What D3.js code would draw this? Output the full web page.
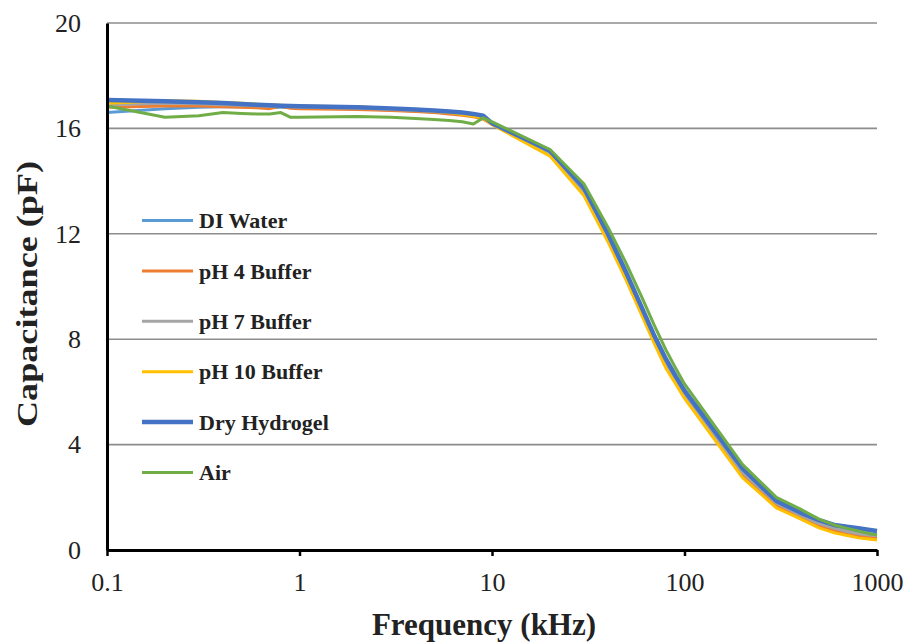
<!DOCTYPE html>
<html>
<head>
<meta charset="utf-8">
<script src="https://cdn.jsdelivr.net/npm/d3@7"></script>
<style>
  body { margin: 0; background: #fff; }
  svg { display: block; }
</style>
</head>
<body>
<div id="chart"></div>
<script>
const width = 911;
const height = 644;
const margin = {top: 23, right: 34, bottom: 94, left: 107};
const serif = "'Liberation Serif', 'Times New Roman', Tinos, 'DejaVu Serif', serif";

// frequency points (kHz)
const freqs = [0.1, 0.2, 0.3, 0.4, 0.5, 0.6, 0.7, 0.8, 0.9,
               1, 2, 3, 4, 5, 6, 7, 8, 9,
               10, 20, 30, 40, 50, 60, 70, 80, 90,
               100, 200, 300, 400, 500, 600, 700, 800, 900,
               1000];

const diWater = [16.6, 16.75, 16.8, 16.82, 16.82, 16.8, 16.8, 16.8, 16.79,
                 16.78, 16.75, 16.7, 16.66, 16.62, 16.58, 16.54, 16.48, 16.42,
                 16.2, 15.1, 13.65, 11.9, 10.4, 9.1, 8.0, 7.15, 6.5,
                 5.95, 3.0, 1.8, 1.35, 1.02, 0.85, 0.74, 0.66, 0.62,
                 0.6];
const ph4 = [16.8, 16.85, 16.85, 16.82, 16.8, 16.78, 16.75, 16.84, 16.76,
             16.75, 16.72, 16.68, 16.64, 16.6, 16.55, 16.5, 16.44, 16.36,
             16.15, 15.0, 13.55, 11.8, 10.3, 9.0, 7.9, 7.05, 6.4,
             5.85, 2.85, 1.7, 1.25, 0.92, 0.75, 0.62, 0.54, 0.48,
             0.45];
const ph7 = [16.9, 16.95, 16.94, 16.9, 16.88, 16.86, 16.84, 16.83, 16.82,
             16.8, 16.76, 16.72, 16.68, 16.64, 16.6, 16.55, 16.5, 16.42,
             16.18, 15.05, 13.6, 11.85, 10.35, 9.05, 7.95, 7.1, 6.45,
             5.9, 2.95, 1.78, 1.32, 1.0, 0.82, 0.7, 0.62, 0.57,
             0.55];
const ph10 = [16.95, 17.05, 17.03, 16.98, 16.95, 16.92, 16.9, 16.88, 16.86,
              16.85, 16.82, 16.76, 16.7, 16.65, 16.6, 16.54, 16.46, 16.4,
              16.15, 14.95, 13.45, 11.7, 10.2, 8.9, 7.8, 6.9, 6.3,
              5.75, 2.75, 1.6, 1.18, 0.84, 0.65, 0.55, 0.46, 0.42,
              0.38];
const dryHydrogel = [17.08, 17.03, 16.99, 16.96, 16.93, 16.9, 16.88, 16.86, 16.85,
                     16.84, 16.8, 16.76, 16.72, 16.68, 16.64, 16.6, 16.55, 16.48,
                     16.2, 15.15, 13.75, 12.0, 10.5, 9.2, 8.1, 7.25, 6.6,
                     6.05, 3.1, 1.86, 1.42, 1.13, 0.95, 0.88, 0.83, 0.77,
                     0.72];
const air = [16.85, 16.42, 16.48, 16.6, 16.57, 16.55, 16.55, 16.6, 16.42,
             16.42, 16.45, 16.42, 16.38, 16.34, 16.3, 16.25, 16.17, 16.4,
             16.25, 15.2, 13.9, 12.25, 10.85, 9.6, 8.5, 7.6, 6.9,
             6.3, 3.25, 2.0, 1.55, 1.17, 0.95, 0.82, 0.72, 0.63,
             0.57];

const seriesNames = ["DI Water", "pH 4 Buffer", "pH 7 Buffer", "pH 10 Buffer", "Dry Hydrogel", "Air"];
const seriesValues = [diWater, ph4, ph7, ph10, dryHydrogel, air];
const colors = ["#5B9BD5", "#ED7D31", "#A5A5A5", "#FFC000", "#4472C4", "#70AD47"];
const strokeW = [3, 3, 3, 3, 4.5, 3];

const xTicks = [0.1, 1, 10, 100, 1000];
const yTicks = [0, 4, 8, 12, 16, 20];

const svg = d3.select("#chart").append("svg")
    .attr("width", width)
    .attr("height", height);

const innerW = width - margin.left - margin.right;
const innerH = height - margin.top - margin.bottom;

const g = svg.append("g")
    .attr("transform", "translate(" + margin.left + "," + margin.top + ")");

const xScale = d3.scaleLog().domain([0.1, 1000]).range([0, innerW]);
const yScale = d3.scaleLinear().domain([0, 20]).range([innerH, 0]);

// gridlines
g.selectAll(".grid")
    .data(yTicks.filter(d => d > 0))
    .enter()
    .append("line")
    .attr("x1", 0)
    .attr("x2", innerW)
    .attr("y1", d => yScale(d))
    .attr("y2", d => yScale(d))
    .attr("stroke", "#8c8c8c")
    .attr("stroke-width", 1.6);

const slices = seriesNames.map(function(name, i) {
    return {
        id: name,
        color: colors[i],
        sw: strokeW[i],
        values: freqs.map((f, j) => ({freq: f, cap: seriesValues[i][j]}))
    };
});

const line = d3.line()
    .x(d => xScale(d.freq))
    .y(d => yScale(d.cap));

g.selectAll(".series")
    .data(slices)
    .enter()
    .append("path")
    .attr("fill", "none")
    .attr("stroke", d => d.color)
    .attr("stroke-width", d => d.sw)
    .attr("stroke-linejoin", "round")
    .attr("d", d => line(d.values));

// axes
const xaxis = d3.axisBottom(xScale)
    .tickValues(xTicks)
    .tickFormat(d => String(d))
    .tickSizeInner(6)
    .tickSizeOuter(0)
    .tickPadding(17);

const yaxis = d3.axisLeft(yScale)
    .tickValues(yTicks)
    .tickSize(0)
    .tickPadding(26);

const gx = g.append("g")
    .attr("transform", "translate(0," + innerH + ")")
    .call(xaxis);
gx.select(".domain").attr("stroke", "#000").attr("stroke-width", 3);
gx.selectAll(".tick line").attr("stroke", "#000").attr("stroke-width", 2.5);

const gy = g.append("g").call(yaxis);
gy.select(".domain").attr("stroke", "#000").attr("stroke-width", 3);

svg.selectAll(".tick text")
    .attr("font-family", serif)
    .attr("font-size", 26)
    .attr("fill", "#222");

// axis titles
svg.append("text")
    .attr("x", margin.left + innerW / 2 - 8)
    .attr("y", 635)
    .attr("text-anchor", "middle")
    .attr("font-family", serif)
    .attr("font-weight", "bold")
    .attr("font-size", 31)
    .attr("fill", "#222")
    .text("Frequency (kHz)");

svg.append("text")
    .attr("transform", "translate(37,294) rotate(-90)")
    .attr("text-anchor", "middle")
    .attr("font-family", serif)
    .attr("font-weight", "bold")
    .attr("font-size", 30)
    .attr("textLength", 266)
    .attr("lengthAdjust", "spacingAndGlyphs")
    .attr("fill", "#222")
    .text("Capacitance (pF)");

// legend
const legend = g.append("g");
const rows = legend.selectAll("g")
    .data(slices)
    .enter()
    .append("g")
    .attr("transform", (d, i) => "translate(35," + (197.5 + i * 50.4) + ")");

rows.append("line")
    .attr("x1", 0).attr("x2", 51)
    .attr("stroke", d => d.color)
    .attr("stroke-width", d => d.sw);

rows.append("text")
    .attr("x", 57)
    .attr("dy", "0.35em")
    .attr("font-family", serif)
    .attr("font-weight", "bold")
    .attr("font-size", 22)
    .attr("fill", "#222")
    .text(d => d.id);
</script>
</body>
</html>
